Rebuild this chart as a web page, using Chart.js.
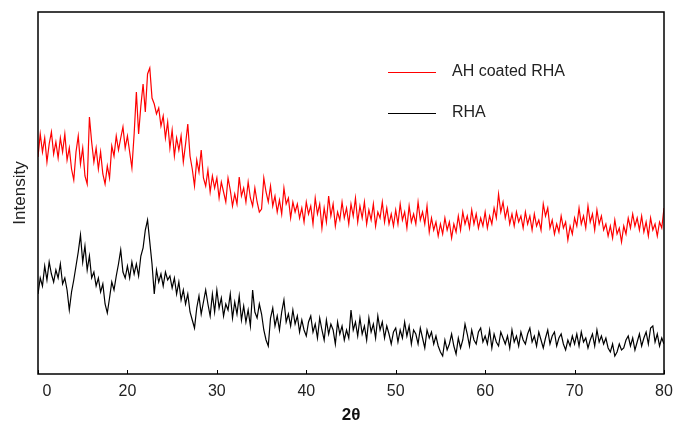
<!DOCTYPE html>
<html>
<head>
<meta charset="utf-8">
<script src="https://cdn.jsdelivr.net/npm/chart.js@4"></script>
<style>
  html, body { margin: 0; padding: 0; background: #fff; }
  #wrap { width: 678px; height: 426px; }
</style>
</head>
<body>
<div id="wrap"><canvas id="xrdCanvas" width="678" height="426"></canvas></div>
<script>
// 2theta positions (deg), one row per 5 degrees
const twoTheta = [
  10, 10.25, 10.5, 10.75, 11, 11.25, 11.5, 11.75, 12, 12.25, 12.5, 12.75, 13, 13.25, 13.5, 13.75, 14, 14.25, 14.5, 14.75,
  15, 15.25, 15.5, 15.75, 16, 16.25, 16.5, 16.75, 17, 17.25, 17.5, 17.75, 18, 18.25, 18.5, 18.75, 19, 19.25, 19.5, 19.75,
  20, 20.25, 20.5, 20.75, 21, 21.25, 21.5, 21.75, 22, 22.25, 22.5, 22.75, 23, 23.25, 23.5, 23.75, 24, 24.25, 24.5, 24.75,
  25, 25.25, 25.5, 25.75, 26, 26.25, 26.5, 26.75, 27, 27.25, 27.5, 27.75, 28, 28.25, 28.5, 28.75, 29, 29.25, 29.5, 29.75,
  30, 30.25, 30.5, 30.75, 31, 31.25, 31.5, 31.75, 32, 32.25, 32.5, 32.75, 33, 33.25, 33.5, 33.75, 34, 34.25, 34.5, 34.75,
  35, 35.25, 35.5, 35.75, 36, 36.25, 36.5, 36.75, 37, 37.25, 37.5, 37.75, 38, 38.25, 38.5, 38.75, 39, 39.25, 39.5, 39.75,
  40, 40.25, 40.5, 40.75, 41, 41.25, 41.5, 41.75, 42, 42.25, 42.5, 42.75, 43, 43.25, 43.5, 43.75, 44, 44.25, 44.5, 44.75,
  45, 45.25, 45.5, 45.75, 46, 46.25, 46.5, 46.75, 47, 47.25, 47.5, 47.75, 48, 48.25, 48.5, 48.75, 49, 49.25, 49.5, 49.75,
  50, 50.25, 50.5, 50.75, 51, 51.25, 51.5, 51.75, 52, 52.25, 52.5, 52.75, 53, 53.25, 53.5, 53.75, 54, 54.25, 54.5, 54.75,
  55, 55.25, 55.5, 55.75, 56, 56.25, 56.5, 56.75, 57, 57.25, 57.5, 57.75, 58, 58.25, 58.5, 58.75, 59, 59.25, 59.5, 59.75,
  60, 60.25, 60.5, 60.75, 61, 61.25, 61.5, 61.75, 62, 62.25, 62.5, 62.75, 63, 63.25, 63.5, 63.75, 64, 64.25, 64.5, 64.75,
  65, 65.25, 65.5, 65.75, 66, 66.25, 66.5, 66.75, 67, 67.25, 67.5, 67.75, 68, 68.25, 68.5, 68.75, 69, 69.25, 69.5, 69.75,
  70, 70.25, 70.5, 70.75, 71, 71.25, 71.5, 71.75, 72, 72.25, 72.5, 72.75, 73, 73.25, 73.5, 73.75, 74, 74.25, 74.5, 74.75,
  75, 75.25, 75.5, 75.75, 76, 76.25, 76.5, 76.75, 77, 77.25, 77.5, 77.75, 78, 78.25, 78.5, 78.75, 79, 79.25, 79.5, 79.75,
  80
];

// intensities (arbitrary units, offset curves)
const coatedRHA = [
  217, 240, 222, 236, 212, 230, 242, 220, 232, 216, 236, 222, 240, 214, 226, 205, 194, 222, 238, 210,
  226, 198, 190, 257, 232, 212, 226, 205, 222, 200, 190, 208, 196, 228, 218, 238, 224, 236, 247, 226,
  238, 222, 206, 240, 282, 240, 268, 290, 262, 300, 306, 276, 270, 260, 266, 248, 258, 236, 252, 226,
  244, 218, 236, 224, 238, 212, 230, 250, 218, 205, 188, 214, 202, 224, 196, 188, 204, 182, 198, 186,
  196, 176, 192, 182, 172, 196, 184, 168, 180, 170, 197, 178, 186, 172, 192, 176, 168, 186, 172, 162,
  165, 196, 182, 172, 188, 168, 178, 162, 174, 160, 186, 170, 176, 156, 172, 162, 170, 156, 166, 152,
  172, 160, 168, 150, 176, 160, 170, 146, 166, 152, 178, 158, 170, 148, 162, 154, 172, 156, 166, 150,
  170, 158, 176, 152, 168, 156, 172, 150, 164, 154, 170, 148, 162, 156, 172, 152, 166, 150, 160, 148,
  164, 150, 170, 154, 162, 146, 168, 152, 160, 150, 172, 154, 162, 150, 168, 142, 156, 144, 152, 138,
  150, 140, 156, 144, 152, 136, 150, 142, 158, 144, 162, 150, 158, 146, 164, 150, 160, 146, 156, 148,
  162, 146, 158, 150, 166, 156, 180, 162, 172, 156, 166, 150, 160, 148, 162, 152, 158, 146, 162, 150,
  158, 144, 160, 148, 154, 144, 170, 158, 166, 146, 154, 140, 150, 142, 158, 146, 152, 134, 148, 140,
  156, 148, 166, 150, 158, 146, 168, 152, 160, 144, 164, 150, 158, 144, 150, 138, 148, 136, 154, 140,
  146, 132, 148, 140, 156, 146, 160, 148, 156, 144, 158, 142, 152, 138, 156, 144, 150, 138, 152, 146,
  166
];

const rawRHA = [
  80, 96, 88, 108, 94, 112, 100, 92, 104, 96, 110, 90, 96, 84, 64, 82, 94, 108, 122, 139,
  112, 128, 104, 118, 96, 102, 88, 96, 82, 90, 70, 61, 76, 92, 84, 98, 110, 124, 102, 96,
  108, 96, 112, 100, 110, 98, 118, 126, 144, 154, 132, 110, 80, 104, 92, 100, 88, 102, 94, 98,
  86, 96, 80, 92, 74, 84, 70, 80, 62, 54, 46, 66, 78, 60, 72, 84, 70, 58, 80, 62,
  84, 66, 76, 58, 70, 64, 80, 56, 72, 60, 78, 54, 68, 52, 64, 48, 84, 62, 56, 70,
  60, 44, 34, 28, 56, 66, 48, 58, 44, 62, 74, 52, 60, 48, 64, 50, 58, 42, 54, 44,
  38, 52, 58, 42, 50, 36, 56, 44, 34, 54, 40, 50, 44, 30, 52, 40, 48, 34, 44, 36,
  64, 44, 52, 38, 56, 40, 48, 34, 56, 42, 50, 36, 58, 44, 52, 36, 48, 40, 30, 42,
  46, 32, 44, 36, 52, 38, 48, 30, 44, 40, 30, 46, 36, 26, 44, 36, 42, 30, 38, 28,
  22, 18, 34, 24, 30, 40, 28, 20, 36, 26, 34, 50, 40, 28, 44, 34, 30, 42, 46, 32,
  38, 30, 44, 26, 40, 32, 28, 42, 36, 30, 38, 26, 44, 32, 38, 28, 42, 34, 30, 40,
  46, 32, 38, 28, 42, 34, 26, 36, 44, 30, 38, 42, 28, 36, 40, 30, 24, 34, 28, 38,
  30, 40, 28, 42, 32, 36, 26, 34, 40, 28, 44, 32, 38, 30, 36, 26, 22, 30, 18, 22,
  30, 24, 26, 34, 38, 28, 36, 24, 32, 40, 28, 36, 42, 30, 46, 48, 32, 40, 28, 36,
  30
];

const seriesLabels = ['AH coated RHA', 'RHA'];
const seriesColors = ['#ff0000', '#000000'];
const xTicks = [10, 20, 30, 40, 50, 60, 70, 80];

function toPoints(ys) {
    return twoTheta.map((x, i) => ({ x: x, y: ys[i] }));
}

// frame round the plot + inward tick marks
const framePlugin = {
    id: 'frame',
    afterDatasetsDraw(chart) {
        const { ctx, chartArea } = chart;
        const xs = chart.scales.x;
        ctx.save();
        ctx.strokeStyle = '#000';
        ctx.lineWidth = 1.5;
        ctx.strokeRect(chartArea.left, chartArea.top, chartArea.right - chartArea.left, chartArea.bottom - chartArea.top);
        ctx.lineWidth = 1;
        xTicks.forEach(v => {
            const px = Math.round(xs.getPixelForValue(v)) + 0.5;
            ctx.beginPath();
            ctx.moveTo(px, chartArea.bottom);
            ctx.lineTo(px, chartArea.bottom - 4);
            ctx.stroke();
        });
        ctx.restore();
    }
};

// legend drawn inside the plot, upper right
const insideLegend = {
    id: 'insideLegend',
    afterDraw(chart) {
        const { ctx } = chart;
        ctx.save();
        ctx.font = '16px "Liberation Sans", Arial, sans-serif';
        ctx.textBaseline = 'middle';
        chart.data.datasets.forEach((ds, i) => {
            const y = 72 + i * 41;
            ctx.strokeStyle = ds.borderColor;
            ctx.lineWidth = 1.2;
            ctx.beginPath();
            ctx.moveTo(388, y + 0.5);
            ctx.lineTo(436, y + 0.5);
            ctx.stroke();
            ctx.fillStyle = '#222';
            ctx.fillText(ds.label, 452, y);
        });
        ctx.restore();
    }
};

const ctx = document.getElementById('xrdCanvas').getContext('2d');
new Chart(ctx, {
    type: 'line',
    data: {
        datasets: [
            {
                label: seriesLabels[0],
                data: toPoints(coatedRHA),
                borderColor: seriesColors[0],
                borderWidth: 1.2,
                pointRadius: 0,
                tension: 0
            },
            {
                label: seriesLabels[1],
                data: toPoints(rawRHA),
                borderColor: seriesColors[1],
                borderWidth: 1.2,
                pointRadius: 0,
                tension: 0
            }
        ]
    },
    options: {
        responsive: false,
        animation: false,
        layout: { padding: { top: 12, right: 14, left: 0, bottom: 0 } },
        plugins: {
            legend: { display: false },
            tooltip: { enabled: false }
        },
        scales: {
            x: {
                type: 'linear',
                min: 10,
                max: 80,
                afterBuildTicks(scale) {
                    scale.ticks = xTicks.map(v => ({ value: v }));
                },
                afterFit(scale) {
                    scale.height = 52;
                    // labels may hang over the edges, don't let them shrink the plot
                    scale.paddingLeft = 0;
                    scale.paddingRight = 0;
                },
                grid: { display: false, drawTicks: false },
                border: { display: false },
                ticks: {
                    padding: 8,
                    color: '#222',
                    font: { family: '"Liberation Sans", Arial, sans-serif', size: 16 },
                    maxRotation: 0,
                    autoSkip: false,
                    callback: v => (v === 10 ? '    0' : String(v))
                },
                title: {
                    display: true,
                    text: '2θ',
                    color: '#111',
                    padding: { top: 0, bottom: 0 },
                    font: { family: '"Liberation Sans", Arial, sans-serif', size: 17, weight: 'bold' }
                }
            },
            y: {
                min: 0,
                max: 362,
                afterFit(scale) { scale.width = 38; },
                grid: { display: false, drawTicks: false },
                border: { display: false },
                ticks: { display: false },
                title: {
                    display: true,
                    text: 'Intensity',
                    color: '#222',
                    padding: { top: 10, bottom: 0 },
                    font: { family: '"Liberation Sans", Arial, sans-serif', size: 17 }
                }
            }
        }
    },
    plugins: [framePlugin, insideLegend]
});
</script>
</body>
</html>
